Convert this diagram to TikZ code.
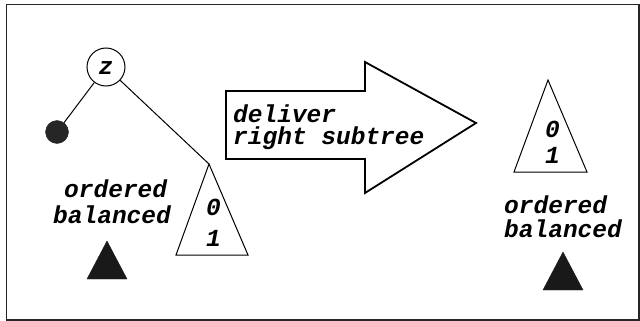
\documentclass[tikz,border=0pt]{standalone}
\usepackage{fontspec}
\newfontfamily\cbfont{Liberation Mono}
\begin{document}
\begin{tikzpicture}[x=1pt,y=-1pt,
  lbl/.style={font=\cbfont\bfseries\itshape\fontsize{24.5}{24.5}\selectfont, inner sep=0pt, anchor=base west},
  thin line/.style={line width=1pt, draw=black},
  subtree/.style={line width=1pt, draw=black, fill=white},
  blacktri/.style={fill=black!90, draw=black!90}]
\useasboundingbox (0,0) rectangle (640,321);
\draw[line width=1.6pt, draw=black!85] (6.5,4.5) rectangle (639,320);
% left tree
\node[circle, draw, line width=1pt, minimum size=38pt, inner sep=0pt] (z) at (106,67) {};
\node[lbl, anchor=center] (zl) at (106,68) {z};
\node[circle, fill=black!85, draw=black!85, minimum size=23pt, inner sep=0pt] (dot) at (57,132) {};
\coordinate (apexL) at (209,164);
\draw[thin line] (z) -- (dot);
\draw[thin line] (z) -- (apexL);
\draw[subtree] (apexL) -- (176,255) -- (248,255) -- cycle;
\node[lbl] (l0) at (206,215) {0};
\node[lbl] (l1) at (206,246) {1};
\node[lbl] (lo) at (64,197) {ordered};
\node[lbl] (lb) at (53,223) {balanced};
\fill[blacktri] (107,241) -- (87,279) -- (127,279) -- cycle;
% arrow
\draw[line width=1.8pt, fill=white] (226,91) -- (365,91) -- (365,62) -- (476,123) -- (365,193) -- (365,159) -- (226,159) -- cycle;
\node[lbl] (d1) at (233,122) {deliver};
\node[lbl] (d2) at (233,144) {right subtree};
% right tree
\draw[subtree] (548,80) -- (514,172) -- (587,172) -- cycle;
\node[lbl] (r0) at (545,137) {0};
\node[lbl] (r1) at (545,163) {1};
\node[lbl] (ro) at (504,213) {ordered};
\node[lbl] (rb) at (504,237) {balanced};
\fill[blacktri] (563,252) -- (543,290) -- (583,290) -- cycle;
\end{tikzpicture}
\end{document}
